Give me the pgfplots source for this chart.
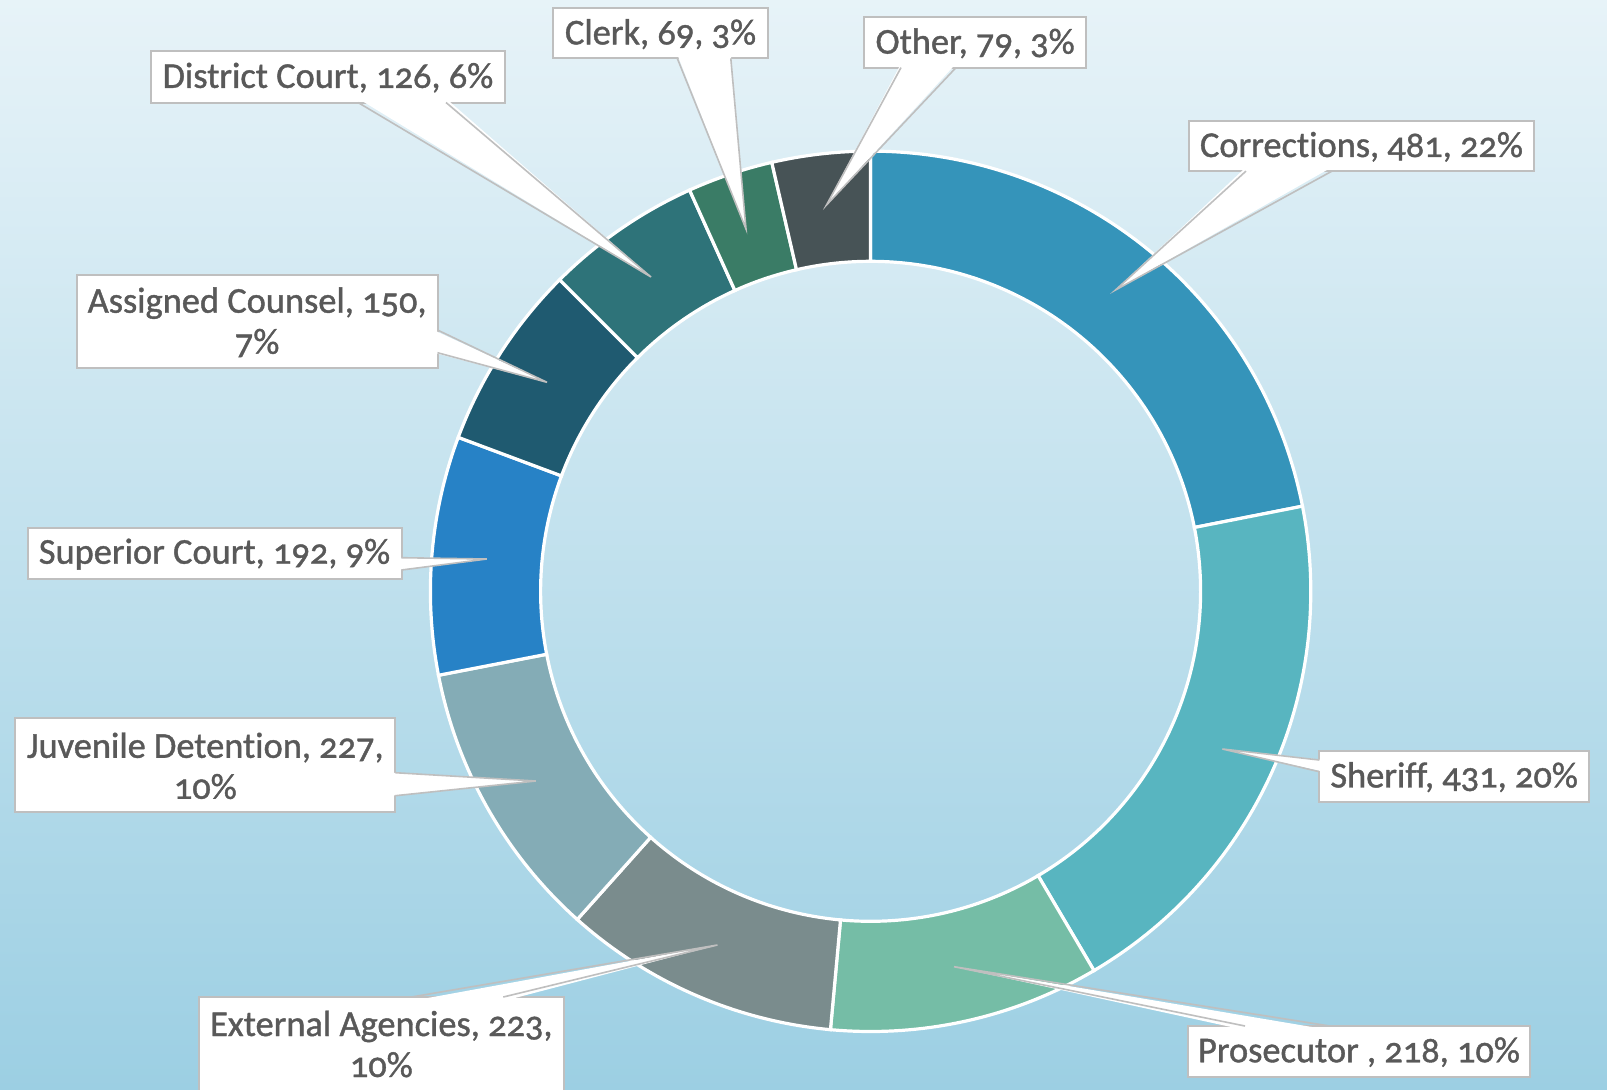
\documentclass[border=0pt]{standalone}
\usepackage{pgfplots}
\pgfplotsset{compat=1.18}
\usepackage{fontspec}
\setmainfont{Carlito}[Numbers=OldStyle, Ligatures=NoCommon, UprightFeatures={FakeBold=1.1}]
\definecolor{bgtop}{HTML}{E7F3F8}
\definecolor{bgbot}{HTML}{9CCFE3}
\definecolor{boxgray}{HTML}{BFBFBF}
\definecolor{txtgray}{HTML}{595959}
\definecolor{cCorr}{HTML}{3594BA}
\definecolor{cSher}{HTML}{58B5C0}
\definecolor{cPros}{HTML}{75BDA6}
\definecolor{cExt}{HTML}{7A8C8D}
\definecolor{cJuv}{HTML}{84ACB6}
\definecolor{cSup}{HTML}{2782C6}
\definecolor{cAss}{HTML}{1F5A70}
\definecolor{cDist}{HTML}{2E7379}
\definecolor{cClerk}{HTML}{3A7C66}
\definecolor{cOther}{HTML}{475356}

% donut geometry (pixel units of the picture)
\def\cx{870.6}\def\cy{591.3}\def\Rout{440.2}\def\Rin{330.0}\def\total{2196}
\gdef\curangle{90}
\newcommand\ringslice[2]{%
  \pgfmathsetmacro\angB{\curangle-(#1)/\total*360}%
  \edef\tmp{\noexpand\addplot[fill=#2, draw=white, line width=1.6bp, line join=miter,
     samples at={0,1,...,100,200,201,...,300}]
     ({\cx+(x<150?\Rout:\Rin)*cos(\curangle+(\angB-(\curangle))*(x<150?x/100:(300-x)/100))},
      {\cy-(x<150?\Rout:\Rin)*sin(\curangle+(\angB-(\curangle))*(x<150?x/100:(300-x)/100))}) -- cycle;}%
  \tmp
  \global\let\curangle\angB}

\newcommand\lfont{\fontsize{18.2bp}{20.5bp}\selectfont}
\newcommand\lbox[5]{%
  \draw[draw=boxgray, fill=white, line width=1bp] (#1,#2) rectangle (#3,#4);
  \node[text=txtgray, align=center, inner sep=0pt, font=\lfont]
     at ({(#1+#3)/2},{(#2+#4)/2+0.8}) {#5};}
% pointer: base a (x,y), base b (x,y), inward shift (dx,dy), tip (x,y)
\newcommand\ptr[8]{%
  \fill[white] ({#1+#5},{#2+#6}) -- (#7,#8) -- ({#3+#5},{#4+#6}) -- cycle;
  \draw[boxgray, line width=0.8bp, line join=miter] (#1,#2) -- (#7,#8) -- (#3,#4);}

\begin{document}
\begin{tikzpicture}
\begin{axis}[name=ax, at={(0,0)}, anchor=south west, scale only axis,
  width=803.5bp, height=545bp, xmin=0, xmax=1607, ymin=0, ymax=1090,
  y dir=reverse, hide axis, clip=false]
\fill[top color=bgtop, bottom color=bgbot] (0,0) rectangle (1607,1090);

% values, clockwise from 12 o'clock
\ringslice{481}{cCorr}   % Corrections
\ringslice{431}{cSher}   % Sheriff
\ringslice{218}{cPros}   % Prosecutor
\ringslice{223}{cExt}    % External Agencies
\ringslice{227}{cJuv}    % Juvenile Detention
\ringslice{192}{cSup}    % Superior Court
\ringslice{150}{cAss}    % Assigned Counsel
\ringslice{126}{cDist}   % District Court
\ringslice{69}{cClerk}   % Clerk
\ringslice{79}{cOther}   % Other

% labels
\lbox{150.7}{51.2}{505.2}{102.5}{District Court, 126, 6\%}
\ptr{358}{102.5}{446}{102.5}{0}{-4}{651}{277}
\lbox{553.4}{8.2}{767.6}{58.4}{Clerk, 69, 3\%}
\ptr{677.3}{58.4}{730.8}{58.4}{0}{-4}{746}{229}
\lbox{863.9}{17.4}{1086.3}{67.6}{Other, 79, 3\%}
\ptr{901}{67.6}{956}{67.6}{0}{-4}{826.5}{205}
\lbox{1188.8}{120.9}{1534.1}{171.1}{Correct\kern0pt ions, 481, 22\%}
\ptr{1246}{171.1}{1332}{171.1}{0}{-4}{1115.5}{290}
\lbox{76.8}{275}{437.5}{368}{Assigned Counsel, 150,\\7\%}
\ptr{437.5}{330}{437.5}{352.7}{-4}{0}{547}{382.3}
\lbox{27.5}{527.7}{401.5}{579}{Superior Court, 192, 9\%}
\ptr{401.5}{557.7}{401.5}{570}{-4}{0}{486.8}{559}
\lbox{15.3}{718.3}{395.3}{811.7}{Juvenile Detent\kern0pt ion, 227,\\10\%}
\ptr{395.3}{772.7}{395.3}{795.7}{-4}{0}{535.8}{781}
\lbox{198.6}{997}{564.1}{1100}{}
\ptr{411.4}{997}{503.3}{997}{0}{4}{717.4}{945}
\node[text=txtgray, align=center, inner sep=0pt, font=\lfont]
   at (381.3,1044) {External Agencies, 223,\\10\%};
\lbox{1187.6}{1026}{1530.3}{1076.7}{Prosecutor , 218, 10\%}
\ptr{1245}{1026}{1329.7}{1026}{0}{4}{954.1}{966.7}
\lbox{1319.3}{751}{1589}{801.7}{Sheriff, 431, 20\%}
\ptr{1319.3}{760}{1319.3}{771.7}{4}{0}{1222.4}{749}
\end{axis}
\pgfresetboundingbox
\useasboundingbox (ax.south west) rectangle (ax.north east);
\end{tikzpicture}
\end{document}
